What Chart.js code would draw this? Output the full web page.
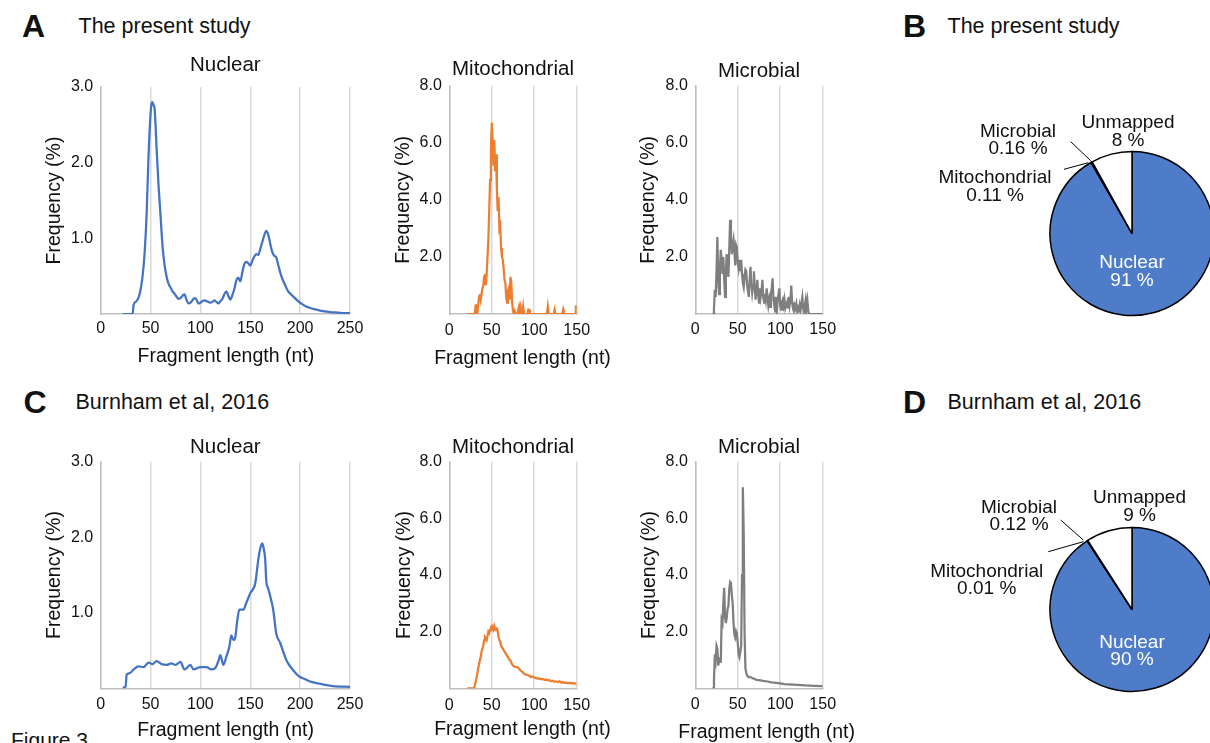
<!DOCTYPE html>
<html>
<head>
<meta charset="utf-8">
<script src="https://cdn.jsdelivr.net/npm/chart.js@4.4.1/dist/chart.umd.min.js"></script>
<style>
html,body{margin:0;padding:0;width:1210px;height:743px;overflow:hidden;background:#fff;}
#page{position:relative;width:1210px;height:743px;overflow:hidden;font-family:'Liberation Sans',Arial,Helvetica,sans-serif;color:#111;}
canvas{position:absolute;}
.t{position:absolute;line-height:1;white-space:nowrap;}
.big{font-size:32px;font-weight:bold;}
.hd{font-size:21.5px;}
</style>
</head>
<body>
<div id="page">
  <div class="t big" style="left:22px;top:9.9px;">A</div>
  <div class="t hd" style="left:78.5px;top:15.8px;">The present study</div>
  <div class="t big" style="left:903px;top:9.9px;">B</div>
  <div class="t hd" style="left:947.5px;top:15.8px;">The present study</div>
  <div class="t big" style="left:23.5px;top:385.9px;">C</div>
  <div class="t hd" style="left:75.5px;top:392.3px;">Burnham et al, 2016</div>
  <div class="t big" style="left:903px;top:385.9px;">D</div>
  <div class="t hd" style="left:947.5px;top:392.3px;">Burnham et al, 2016</div>
  <div class="t" style="left:11px;top:729px;font-size:21px;">Figure 3</div>
</div>
<script>
// ---------------- data ----------------
const nuclearXTicks = [0, 50, 100, 150, 200, 250];
const shortXTicks = [0, 50, 100, 150];
const nuclearYTicks = [1.0, 2.0, 3.0];
const organelleYTicks = [2.0, 4.0, 6.0, 8.0];

// A: the present study, nuclear
const presentNuclearLen = [22,32,33,36,39,42,44,46,48,50,51,52,53,54,55,56,58,60,62,64,66,68,70,72,74,76,78,80,82,84,86,88,90,92,94,96,98,100,102,104,106,108,110,112,114,116,118,120,122,124,126,128,130,132,134,136,138,140,142,144,146,148,150,152,154,156,158,160,162,164,166,168,170,172,174,176,178,180,182,184,186,188,190,194,198,202,206,210,215,220,225,230,235,240,245,250];
const presentNuclearFreq = [0,0,0.12,0.17,0.26,0.5,0.8,1.3,2.1,2.65,2.78,2.8,2.76,2.72,2.5,2.2,1.7,1.3,0.9,0.65,0.5,0.4,0.35,0.3,0.27,0.23,0.2,0.21,0.24,0.26,0.19,0.14,0.15,0.18,0.21,0.19,0.14,0.15,0.17,0.18,0.17,0.16,0.15,0.16,0.18,0.16,0.14,0.17,0.2,0.26,0.3,0.24,0.19,0.25,0.33,0.44,0.48,0.43,0.55,0.66,0.69,0.67,0.64,0.7,0.76,0.79,0.78,0.86,0.95,1.04,1.1,1.05,0.93,0.82,0.77,0.75,0.65,0.55,0.47,0.41,0.35,0.3,0.27,0.22,0.17,0.13,0.1,0.08,0.06,0.045,0.035,0.025,0.02,0.015,0.01,0.01];

// A: the present study, mitochondrial
const presentMitoLen = [21,30,31,32,33,34,35,36,37,38,39,40,41,42,43,44,45,46,47,48,49,50,51,52,53,54,55,56,57,58,59,60,61,62,63,64,65,66,67,68,69,70,71,72,73,74,75,76,77,78,80,82,83,84,86,87,88,92,93,94,95,100,115,116,117,123,124,125,133,134,135,148,149,150];
const presentMitoFreq = [0,0,0.3,0.3,0,0.3,0.6,0.7,0.5,0.7,0.9,1.0,1.3,1.4,1.0,1.4,2.0,2.6,3.6,4.7,5.7,6.7,6.1,5.2,6.1,5.0,5.6,4.4,3.6,4.1,3.0,3.1,2.3,2.0,1.9,1.6,1.2,1.1,0.6,0.4,0.8,0.9,0.5,1.3,1.1,0.4,0.1,0,0.1,0,0,0.25,0,0.25,0,0.25,0,0,0.15,0.15,0,0,0,0.25,0,0,0.15,0,0,0.15,0,0,0.3,0];

// A: the present study, microbial (one value per nt, starting at 20 nt)
const presentMicrobialFirstLen = 20;
const presentMicrobialFreq = [
  0,0,0.2,0.85,0.6,1.5,2.7,1.2,0.7,1.6,
  2.25,1.9,1.4,2.0,1.2,0.6,1.5,2.1,1.6,1.3,
  2.3,3.3,2.7,2.1,2.4,2.6,2.2,1.7,2.4,2.3,
  1.8,1.6,1.9,1.5,1.9,1.4,1.1,0.95,1.3,1.55,
  1.5,1.0,0.8,0.6,1.2,1.65,1.1,0.75,1.0,1.5,
  0.9,0.5,0.8,1.2,0.7,0.4,0.9,0.6,0.8,1.2,
  0.6,0.4,0.7,0.5,0.9,0.6,0.3,0.5,0.25,0.7,
  0.9,1.25,0.5,0.3,0.6,0.1,0.05,0.5,0.7,0.9,
  0.3,0.15,0.4,0.5,0.3,0.5,0.2,0.3,0.4,0.2,
  0.6,0.3,0.5,1.0,0.4,0.2,0.1,0.3,0.2,0.35,
  0.1,0.2,0.05,0.3,0.15,0.4,0.6,0.2,0.05,0.3,
  0.5,0.2,0.45,0.1,0,0,0,0,0,0,
  0,0,0,0,0,0,0,0,0,0,0];

// C: Burnham et al 2016, nuclear
const burnhamNuclearLen = [22,25,26,29,33,38,43,48,52,56,61,66,71,75,80,84,90,93,100,106,111,115,118,120,123,126,129,131,133,135,137,139,143,146,150,155,158,160,162,163,165,166,168,170,173,176,180,184,187,190,193,197,200,205,210,220,233,250];
const burnhamNuclearFreq = [0.01,0.02,0.18,0.2,0.25,0.29,0.28,0.34,0.32,0.36,0.32,0.31,0.33,0.31,0.35,0.25,0.31,0.25,0.28,0.28,0.25,0.27,0.36,0.44,0.31,0.42,0.55,0.7,0.64,0.68,0.9,1.04,1.04,1.13,1.26,1.39,1.7,1.85,1.92,1.88,1.7,1.43,1.32,1.22,1.04,0.73,0.6,0.45,0.35,0.29,0.24,0.18,0.15,0.12,0.09,0.06,0.03,0.02];

// C: Burnham et al 2016, mitochondrial
const burnhamMitoLen = [21,29,30,32,34,36,37,38,39,40,41,42,43,44,45,46,47,48,49,50,51,52,53,54,55,56,57,58,59,60,61,62,63,64,65,66,67,68,69,70,71,72,73,74,75,76,78,80,82,84,86,88,90,92,94,96,98,100,102,104,106,108,110,112,114,116,118,120,122,124,126,128,130,132,134,136,138,140,142,144,146,148,150];
const burnhamMitoFreq = [0,0,0.1,0.35,0.7,1.0,1.1,1.3,1.4,1.5,1.7,1.8,1.75,1.7,1.85,2.0,1.95,2.05,2.15,2.2,2.1,2.05,2.2,2.1,2.05,2.15,2.0,1.8,1.7,1.65,1.5,1.45,1.4,1.35,1.3,1.25,1.2,1.15,1.1,1.05,1.0,0.98,0.9,0.85,0.8,0.78,0.76,0.75,0.7,0.62,0.58,0.52,0.48,0.47,0.44,0.4,0.42,0.38,0.36,0.34,0.35,0.32,0.33,0.3,0.31,0.28,0.29,0.25,0.27,0.23,0.24,0.22,0.25,0.2,0.22,0.19,0.2,0.18,0.2,0.17,0.19,0.16,0.18];

// C: Burnham et al 2016, microbial
const burnhamMicrobialLen = [20,21,22,23,24,25,26,27,28,29,30,31,32,33,34,35,36,37,38,39,40,41,42,43,44,45,46,47,48,49,50,51,52,53,54,55,56,57,58,59,60,61,62,64,66,68,70,72,75,80,85,90,95,100,105,110,115,120,125,130,140,150];
const burnhamMicrobialFreq = [0,0,0.3,1.2,1.0,1.5,1.4,0.8,1.0,1.1,0.9,2.4,2.3,3.0,3.55,2.5,2.3,2.5,2.8,2.9,3.5,3.75,3.7,3.3,3.0,2.3,1.9,1.8,2.0,1.9,1.6,1.2,1.1,1.3,1.5,4.0,7.1,5.5,2.0,0.7,0.55,0.45,0.42,0.4,0.38,0.35,0.33,0.3,0.29,0.26,0.24,0.21,0.19,0.17,0.15,0.14,0.13,0.12,0.11,0.1,0.09,0.08];

// B / D: read-type composition (%)
const pieCategories = ['Nuclear', 'Mitochondrial', 'Microbial', 'Unmapped'];
const presentPieValues = [91, 0.11, 0.16, 8];
const burnhamPieValues = [90, 0.01, 0.12, 9];

// ---------------- styling ----------------
const FONT = "'Liberation Sans', Arial, Helvetica, sans-serif";
const TXT = '#111';
const BLUE = '#4472C4', ORANGE = '#ED7D31', GRAY = '#7F7F7F', PIE_BLUE = '#4E7CC8';
const page = document.getElementById('page');

function makeCanvas(left, top, w, h) {
  const c = document.createElement('canvas');
  c.width = w; c.height = h;
  c.style.left = left + 'px'; c.style.top = top + 'px';
  c.style.width = w + 'px'; c.style.height = h + 'px';
  page.appendChild(c);
  return c;
}

// draws the chart title and the x-axis title centred on the plot area
const panelTextPlugin = {
  id: 'panelText',
  afterDraw(chart, args, opts) {
    const a = chart.chartArea, ctx = chart.ctx;
    const cx = (a.left + a.right) / 2;
    ctx.save();
    ctx.fillStyle = TXT; ctx.textAlign = 'center'; ctx.textBaseline = 'alphabetic';
    ctx.font = '20.5px ' + FONT;
    ctx.fillText(opts.title, cx, a.top - opts.titleGap);
    if (opts.xTitle) {
      ctx.font = '19.5px ' + FONT;
      ctx.fillText(opts.xTitle, cx + opts.xTitleDx, a.bottom + opts.xTitleGap);
    }
    ctx.restore();
  }
};

function lineChart(L, title, xs, ys, color, xTicks, yTicks, xTitle, smooth) {
  const c = makeCanvas(L.left, L.top, L.width, L.height);
  const pts = xs.map((x, i) => ({x: x, y: ys[i]}));
  return new Chart(c, {
    type: 'line',
    data: {datasets: [{data: pts, borderColor: color, borderWidth: 2.25, pointRadius: 0, fill: false,
      tension: 0, cubicInterpolationMode: smooth ? 'monotone' : 'default'}]},
    options: {
      responsive: false, animation: false, devicePixelRatio: 1,
      layout: {padding: {left: 0, top: L.padTop, right: L.padRight, bottom: 0}},
      plugins: {
        legend: {display: false}, tooltip: {enabled: false}, title: {display: false},
        panelText: {title: title, titleGap: L.titleGap, xTitle: xTitle, xTitleGap: L.xTitleGap || 0, xTitleDx: L.xTitleDx || 0}
      },
      scales: {
        x: {
          type: 'linear', min: xTicks[0], max: xTicks[xTicks.length - 1],
          ticks: {stepSize: xTicks[1] - xTicks[0], color: TXT, font: {family: FONT, size: 16},
            padding: L.xTickPad, maxRotation: 0, autoSkip: false},
          grid: {display: true, color: '#d9d9d9', lineWidth: 1.5, drawTicks: false},
          border: {display: true, color: '#bfbfbf', width: 1.5},
          afterFit: s => { s.height = L.axisH; s.paddingLeft = 0; s.paddingRight = 0; }
        },
        y: {
          min: 0, max: yTicks[yTicks.length - 1],
          ticks: {stepSize: yTicks[0], color: TXT, font: {family: FONT, size: 16}, padding: 7.5,
            callback: v => (v === 0 ? '' : Number(v).toFixed(1))},
          grid: {display: false, drawTicks: false},
          border: {display: true, color: '#bfbfbf', width: 1.5},
          title: {display: true, text: 'Frequency (%)', color: TXT,
            font: {family: FONT, size: 19.5, lineHeight: 1}, padding: {top: L.yTitlePad, bottom: 0}},
          afterFit: s => { s.width = L.axisW; s.paddingTop = 0; s.paddingBottom = 0; }
        }
      }
    },
    plugins: [panelTextPlugin]
  });
}

const X_TITLE = 'Fragment length (nt)';
const LAY = {
  aNuc: {left: 30, top: 45, width: 340, height: 334, padTop: 42, padRight: 20, axisW: 70.7, axisH: 65, titleGap: 16, yTitlePad: 14.55, xTitleGap: 48.3, xTitleDx: 0.5, xTickPad: 4.7},
  aMit: {left: 380, top: 45, width: 240, height: 334, padTop: 40.7, padRight: 43.3, axisW: 69.3, axisH: 65, titleGap: 10.7, yTitlePad: 13.45, xTitleGap: 50, xTitleDx: 9.5, xTickPad: 7.2},
  aMic: {left: 625, top: 45, width: 240, height: 334, padTop: 40.7, padRight: 42.3, axisW: 70.3, axisH: 65, titleGap: 8.4, yTitlePad: 13.45, xTickPad: 5.6},
  cNuc: {left: 30, top: 420, width: 340, height: 323, padTop: 41.7, padRight: 20, axisW: 70.7, axisH: 54.7, titleGap: 9, yTitlePad: 14.55, xTitleGap: 47.7, xTitleDx: 0.3, xTickPad: 6.3},
  cMit: {left: 380, top: 420, width: 240, height: 323, padTop: 41.7, padRight: 43.3, axisW: 69.3, axisH: 54.7, titleGap: 9, yTitlePad: 15.15, xTitleGap: 46.7, xTitleDx: 9.5, xTickPad: 7.3},
  cMic: {left: 625, top: 420, width: 240, height: 323, padTop: 41.7, padRight: 42.3, axisW: 70.3, axisH: 54.7, titleGap: 8.4, yTitlePad: 14.45, xTitleGap: 50, xTitleDx: 7.7, xTickPad: 6.3}
};

const presentMicrobialLen = presentMicrobialFreq.map((_, i) => presentMicrobialFirstLen + i);

lineChart(LAY.aNuc, 'Nuclear', presentNuclearLen, presentNuclearFreq, BLUE, nuclearXTicks, nuclearYTicks, X_TITLE, true);
lineChart(LAY.aMit, 'Mitochondrial', presentMitoLen, presentMitoFreq, ORANGE, shortXTicks, organelleYTicks, X_TITLE, false);
lineChart(LAY.aMic, 'Microbial', presentMicrobialLen, presentMicrobialFreq, GRAY, shortXTicks, organelleYTicks, null, false);
lineChart(LAY.cNuc, 'Nuclear', burnhamNuclearLen, burnhamNuclearFreq, BLUE, nuclearXTicks, nuclearYTicks, X_TITLE, true);
lineChart(LAY.cMit, 'Mitochondrial', burnhamMitoLen, burnhamMitoFreq, ORANGE, shortXTicks, organelleYTicks, X_TITLE, false);
lineChart(LAY.cMic, 'Microbial', burnhamMicrobialLen, burnhamMicrobialFreq, GRAY, shortXTicks, organelleYTicks, X_TITLE, false);

// ---------------- pies ----------------
const pieLabelPlugin = {
  id: 'pieLabels',
  afterDatasetsDraw(chart, args, opts) {
    const arc = chart.getDatasetMeta(0).data[0];
    const cx = arc.x, cy = arc.y;
    const ctx = chart.ctx;
    ctx.save();
    ctx.font = opts.size + 'px ' + FONT;
    ctx.textAlign = 'center';
    ctx.textBaseline = 'alphabetic';
    opts.items.forEach(it => {
      const name = chart.data.labels[it.index];
      const val = chart.data.datasets[0].data[it.index];
      if (it.leader) {
        ctx.strokeStyle = '#000'; ctx.lineWidth = 1;
        ctx.beginPath();
        ctx.moveTo(cx + it.leader[0], cy + it.leader[1]);
        ctx.lineTo(cx + it.leader[2], cy + it.leader[3]);
        ctx.stroke();
      }
      ctx.fillStyle = it.color || TXT;
      ctx.fillText(name, cx + it.dx, cy + it.dy);
      ctx.fillText(val + ' %', cx + it.dx, cy + it.dy + opts.gap);
    });
    ctx.restore();
  }
};

function pieChart(left, top, values, items) {
  const c = makeCanvas(left, top, 464, 241);
  return new Chart(c, {
    type: 'pie',
    data: {labels: pieCategories, datasets: [{data: values,
      backgroundColor: [PIE_BLUE, '#ffffff', '#ffffff', '#ffffff'],
      borderColor: '#000', borderWidth: 1.5, radius: 82}]},
    options: {
      responsive: false, animation: false, devicePixelRatio: 1, radius: 82,
      layout: {padding: 0},
      plugins: {legend: {display: false}, tooltip: {enabled: false},
        pieLabels: {size: 19, gap: 17.4, items: items}}
    },
    plugins: [pieLabelPlugin]
  });
}

pieChart(900, 113, presentPieValues, [
  {index: 3, dx: -4, dy: -105.2},
  {index: 2, dx: -114, dy: -96.8, leader: [-61.3, -91.8, -41.3, -72.8]},
  {index: 1, dx: -137, dy: -50.2, leader: [-68, -64.2, -43.7, -70.8]},
  {index: 0, dx: 0, dy: 34.8, color: '#ffffff'}
]);
pieChart(900, 489, burnhamPieValues, [
  {index: 3, dx: 7.5, dy: -106.2},
  {index: 2, dx: -113, dy: -96.8, leader: [-71.3, -89.5, -48.7, -69.5]},
  {index: 1, dx: -145.3, dy: -32.8, leader: [-83.7, -57.8, -48.7, -67.8]},
  {index: 0, dx: 0, dy: 38.2, color: '#ffffff'}
]);
</script>
</body>
</html>
